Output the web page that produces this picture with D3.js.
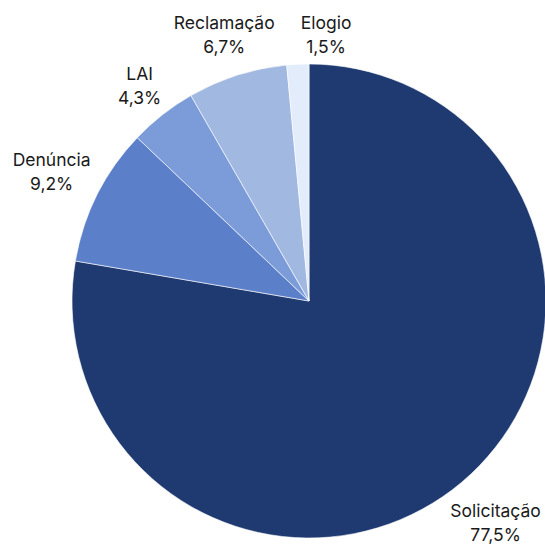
<!DOCTYPE html>
<html>
<head>
<meta charset="utf-8">
<script src="https://cdn.jsdelivr.net/npm/d3@7"></script>
<style>
  html, body { margin: 0; padding: 0; background: #fff; }
  svg { display: block; }
</style>
</head>
<body>
<div id="chart"></div>
<script>
const categories = ['Solicitação', 'Denúncia', 'LAI', 'Reclamação', 'Elogio']
// slice shares
const values = [77.7, 9.4, 4.6, 6.8, 1.5]
// percentages as printed on the labels
const valueLabels = ['77,5%', '9,2%', '4,3%', '6,7%', '1,5%']
const colors = ['#1f3a70', '#5b7fc8', '#7c9cd9', '#a1b8e0', '#e3ecfb']

const width = 545
const height = 549
const cx = 309
const cy = 301
const radius = 237
const gap = 6
const labelPad = 26

const data = categories.map((c, i) => ({ name: c, value: values[i], label: valueLabels[i], color: colors[i] }))

const svg = d3.select('#chart')
  .append('svg')
  .attr('width', width)
  .attr('height', height)
  .attr('viewBox', `0 0 ${width} ${height}`)

const g = svg.append('g')
  .attr('transform', `translate(${cx}, ${cy})`)

const pie = d3.pie()
  .sort(null)
  .value((d) => d.value)

const arc = d3.arc()
  .innerRadius(0)
  .outerRadius(radius)

const arcs = pie(data)

g.selectAll('path')
  .data(arcs)
  .enter()
  .append('path')
  .attr('d', arc)
  .attr('fill', (d) => d.data.color)
  .attr('stroke', '#fff')
  .attr('stroke-width', 0.6)

// labels outside the pie, pushed out by their own box size
const labels = g.selectAll('g.label')
  .data(arcs)
  .enter()
  .append('g')
  .attr('class', 'label')

labels.append('text')
  .attr('text-anchor', 'middle')
  .style('font-family', 'Inter, "DejaVu Sans", sans-serif')
  .style('font-size', '17.5px')
  .style('fill', '#1a1a1a')
  .each(function (d) {
    const t = d3.select(this)
    t.append('tspan').attr('x', 0).attr('y', -6).text(d.data.name)
    t.append('tspan').attr('x', 0).attr('y', 18).text(d.data.label)
  })

const boxes = []
labels.each(function (d) {
  const box = this.getBBox()
  const mid = (d.startAngle + d.endAngle) / 2
  const s = Math.sin(mid)
  const c = -Math.cos(mid)
  const extent = Math.abs(s) * box.width / 2 + Math.abs(c) * box.height / 2
  const r = radius + gap + extent
  boxes.push({
    el: this,
    dx: r * s - (box.x + box.width / 2),
    dy: r * c - (box.y + box.height / 2),
    box
  })
})

// push apart labels that sit side by side too closely
boxes.forEach((b, j) => {
  for (let i = 0; i < j; i++) {
    const a = boxes[i]
    const aTop = a.box.y + a.dy
    const bTop = b.box.y + b.dy
    const vOverlap = aTop < bTop + b.box.height && bTop < aTop + a.box.height
    if (!vOverlap) continue
    const aL = a.box.x + a.dx
    const aR = aL + a.box.width
    const bL = b.box.x + b.dx
    const bR = bL + b.box.width
    if ((bL + bR) / 2 >= (aL + aR) / 2) {
      if (bL - aR < labelPad) b.dx += labelPad - (bL - aR)
    } else if (aL - bR < labelPad) {
      b.dx -= labelPad - (aL - bR)
    }
  }
})

boxes.forEach((b) => d3.select(b.el).attr('transform', `translate(${b.dx}, ${b.dy})`))
</script>
</body>
</html>
